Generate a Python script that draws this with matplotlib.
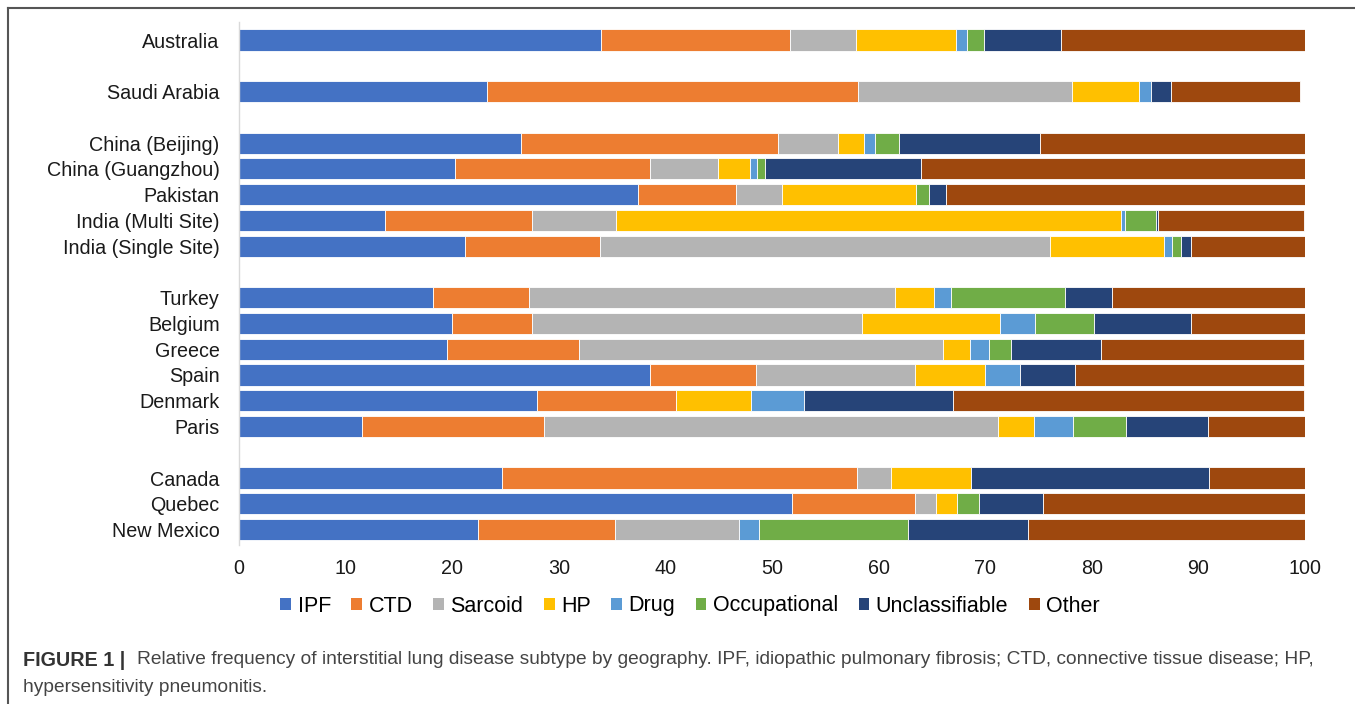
import matplotlib
matplotlib.use("Agg")
import matplotlib.pyplot as plt
from matplotlib.lines import Line2D
from matplotlib.patches import Patch
import numpy as np

plt.rcParams['font.family'] = ['Liberation Sans', 'DejaVu Sans']

# Categories (empty strings are the blank spacer rows between groups)
categories = ["Australia", "", "Saudi Arabia", "", "China (Beijing)", "China (Guangzhou)",
              "Pakistan", "India (Multi Site)", "India (Single Site)", "",
              "Turkey", "Belgium", "Greece", "Spain", "Denmark", "Paris", "",
              "Canada", "Quebec", "New Mexico"]

series_names = ["IPF", "CTD", "Sarcoid", "HP", "Drug", "Occupational", "Unclassifiable", "Other"]

ipf      = [34.0, 0, 23.3, 0, 26.5, 20.3, 37.4, 13.7, 21.2, 0, 18.2, 20.0, 19.5, 38.6, 28.0, 11.5, 0, 24.7, 51.9, 22.4]
ctd      = [17.7, 0, 34.8, 0, 24.1, 18.3, 9.2, 13.8, 12.7, 0, 9.0, 7.5, 12.4, 9.9, 13.0, 17.1, 0, 33.3, 11.5, 12.9]
sarcoid  = [6.2, 0, 20.0, 0, 5.6, 6.3, 4.3, 7.9, 42.2, 0, 34.3, 30.9, 34.1, 14.9, 0.0, 42.6, 0, 3.2, 2.0, 11.6]
hp       = [9.4, 0, 6.3, 0, 2.4, 3.0, 12.6, 47.3, 10.7, 0, 3.7, 13.0, 2.6, 6.6, 7.0, 3.4, 0, 7.5, 2.0, 0.0]
drug     = [1.0, 0, 1.2, 0, 1.1, 0.7, 0.0, 0.4, 0.7, 0, 1.6, 3.3, 1.8, 3.3, 5.0, 3.6, 0, 0.0, 0.0, 1.9]
occup    = [1.6, 0, 0.0, 0, 2.2, 0.7, 1.2, 2.9, 0.9, 0, 10.7, 5.5, 2.0, 0.0, 0.0, 5.0, 0, 0.0, 2.0, 14.0]
unclass  = [7.2, 0, 1.8, 0, 13.2, 14.7, 1.6, 0.2, 0.9, 0, 4.4, 9.1, 8.5, 5.1, 14.0, 7.7, 0, 22.3, 6.0, 11.2]
other    = [22.9, 0, 12.1, 0, 24.9, 36.0, 33.7, 13.7, 10.7, 0, 18.1, 10.7, 19.0, 21.5, 32.9, 9.1, 0, 9.0, 24.6, 26.0]

colors = ["#4472C4", "#ED7D31", "#B4B4B4", "#FFC000", "#5B9BD5", "#70AD47", "#264478", "#9E480E"]

x_ticks = [0, 10, 20, 30, 40, 50, 60, 70, 80, 90, 100]

fig = plt.figure(figsize=(13.55, 7.04), dpi=100)
ax = fig.add_axes([239/1355, 1 - 545/704, (1305-239)/1355, (545-22)/704])

ypos = np.arange(len(categories))
left = np.zeros(len(categories))
all_series = [ipf, ctd, sarcoid, hp, drug, occup, unclass, other]
for name, vals, col in zip(series_names, all_series, colors):
    v = np.array(vals, dtype=float)
    ax.barh(ypos, v, left=left, height=0.82, color=col, edgecolor='white',
            linewidth=0.6, label=name)
    left += v

ax.set_ylim(len(categories) - 0.4, -0.7)
ax.set_xlim(0, 100)
ax.set_yticks(ypos)
ax.set_yticklabels(categories, fontsize=14.2, color='#1a1a1a')
ax.set_xticks(x_ticks)
ax.set_xticklabels([str(t) for t in x_ticks], fontsize=14.2, color='#1a1a1a')
ax.tick_params(axis='both', length=0)
ax.tick_params(axis='y', pad=14)
ax.tick_params(axis='x', pad=10)
for s in ['top', 'right', 'bottom']:
    ax.spines[s].set_visible(False)
ax.spines['left'].set_color('#d9d9d9')
ax.spines['left'].set_linewidth(1.0)

handles = [Patch(facecolor=c, edgecolor='none') for c in colors]
fig.legend(handles, series_names, loc='center', bbox_to_anchor=(690/1355, 1 - 606/704),
           ncol=8, frameon=False, fontsize=15.5, handlelength=0.5, handleheight=0.5,
           handletextpad=0.3, columnspacing=0.95)

# Outer frame lines (top and left)
fig.add_artist(Line2D([8/1355, 1.0], [1 - 8/704, 1 - 8/704], color='#555555', lw=1.5,
                      transform=fig.transFigure))
fig.add_artist(Line2D([8/1355, 8/1355], [0.0, 1 - 8/704], color='#555555', lw=1.5,
                      transform=fig.transFigure))

# Caption
fig.text(23/1355, 1 - 660/704, "FIGURE 1 |", fontsize=14.2, fontweight='bold',
         color='#333333', va='center', ha='left')
fig.text(137/1355, 1 - 660/704,
         "Relative frequency of interstitial lung disease subtype by geography. IPF, idiopathic pulmonary fibrosis; CTD, connective tissue disease; HP,",
         fontsize=13.8, color='#444444', va='center', ha='left')
fig.text(23/1355, 1 - 687/704, "hypersensitivity pneumonitis.", fontsize=13.8,
         color='#444444', va='center', ha='left')

fig.savefig("out.png", dpi=100)
